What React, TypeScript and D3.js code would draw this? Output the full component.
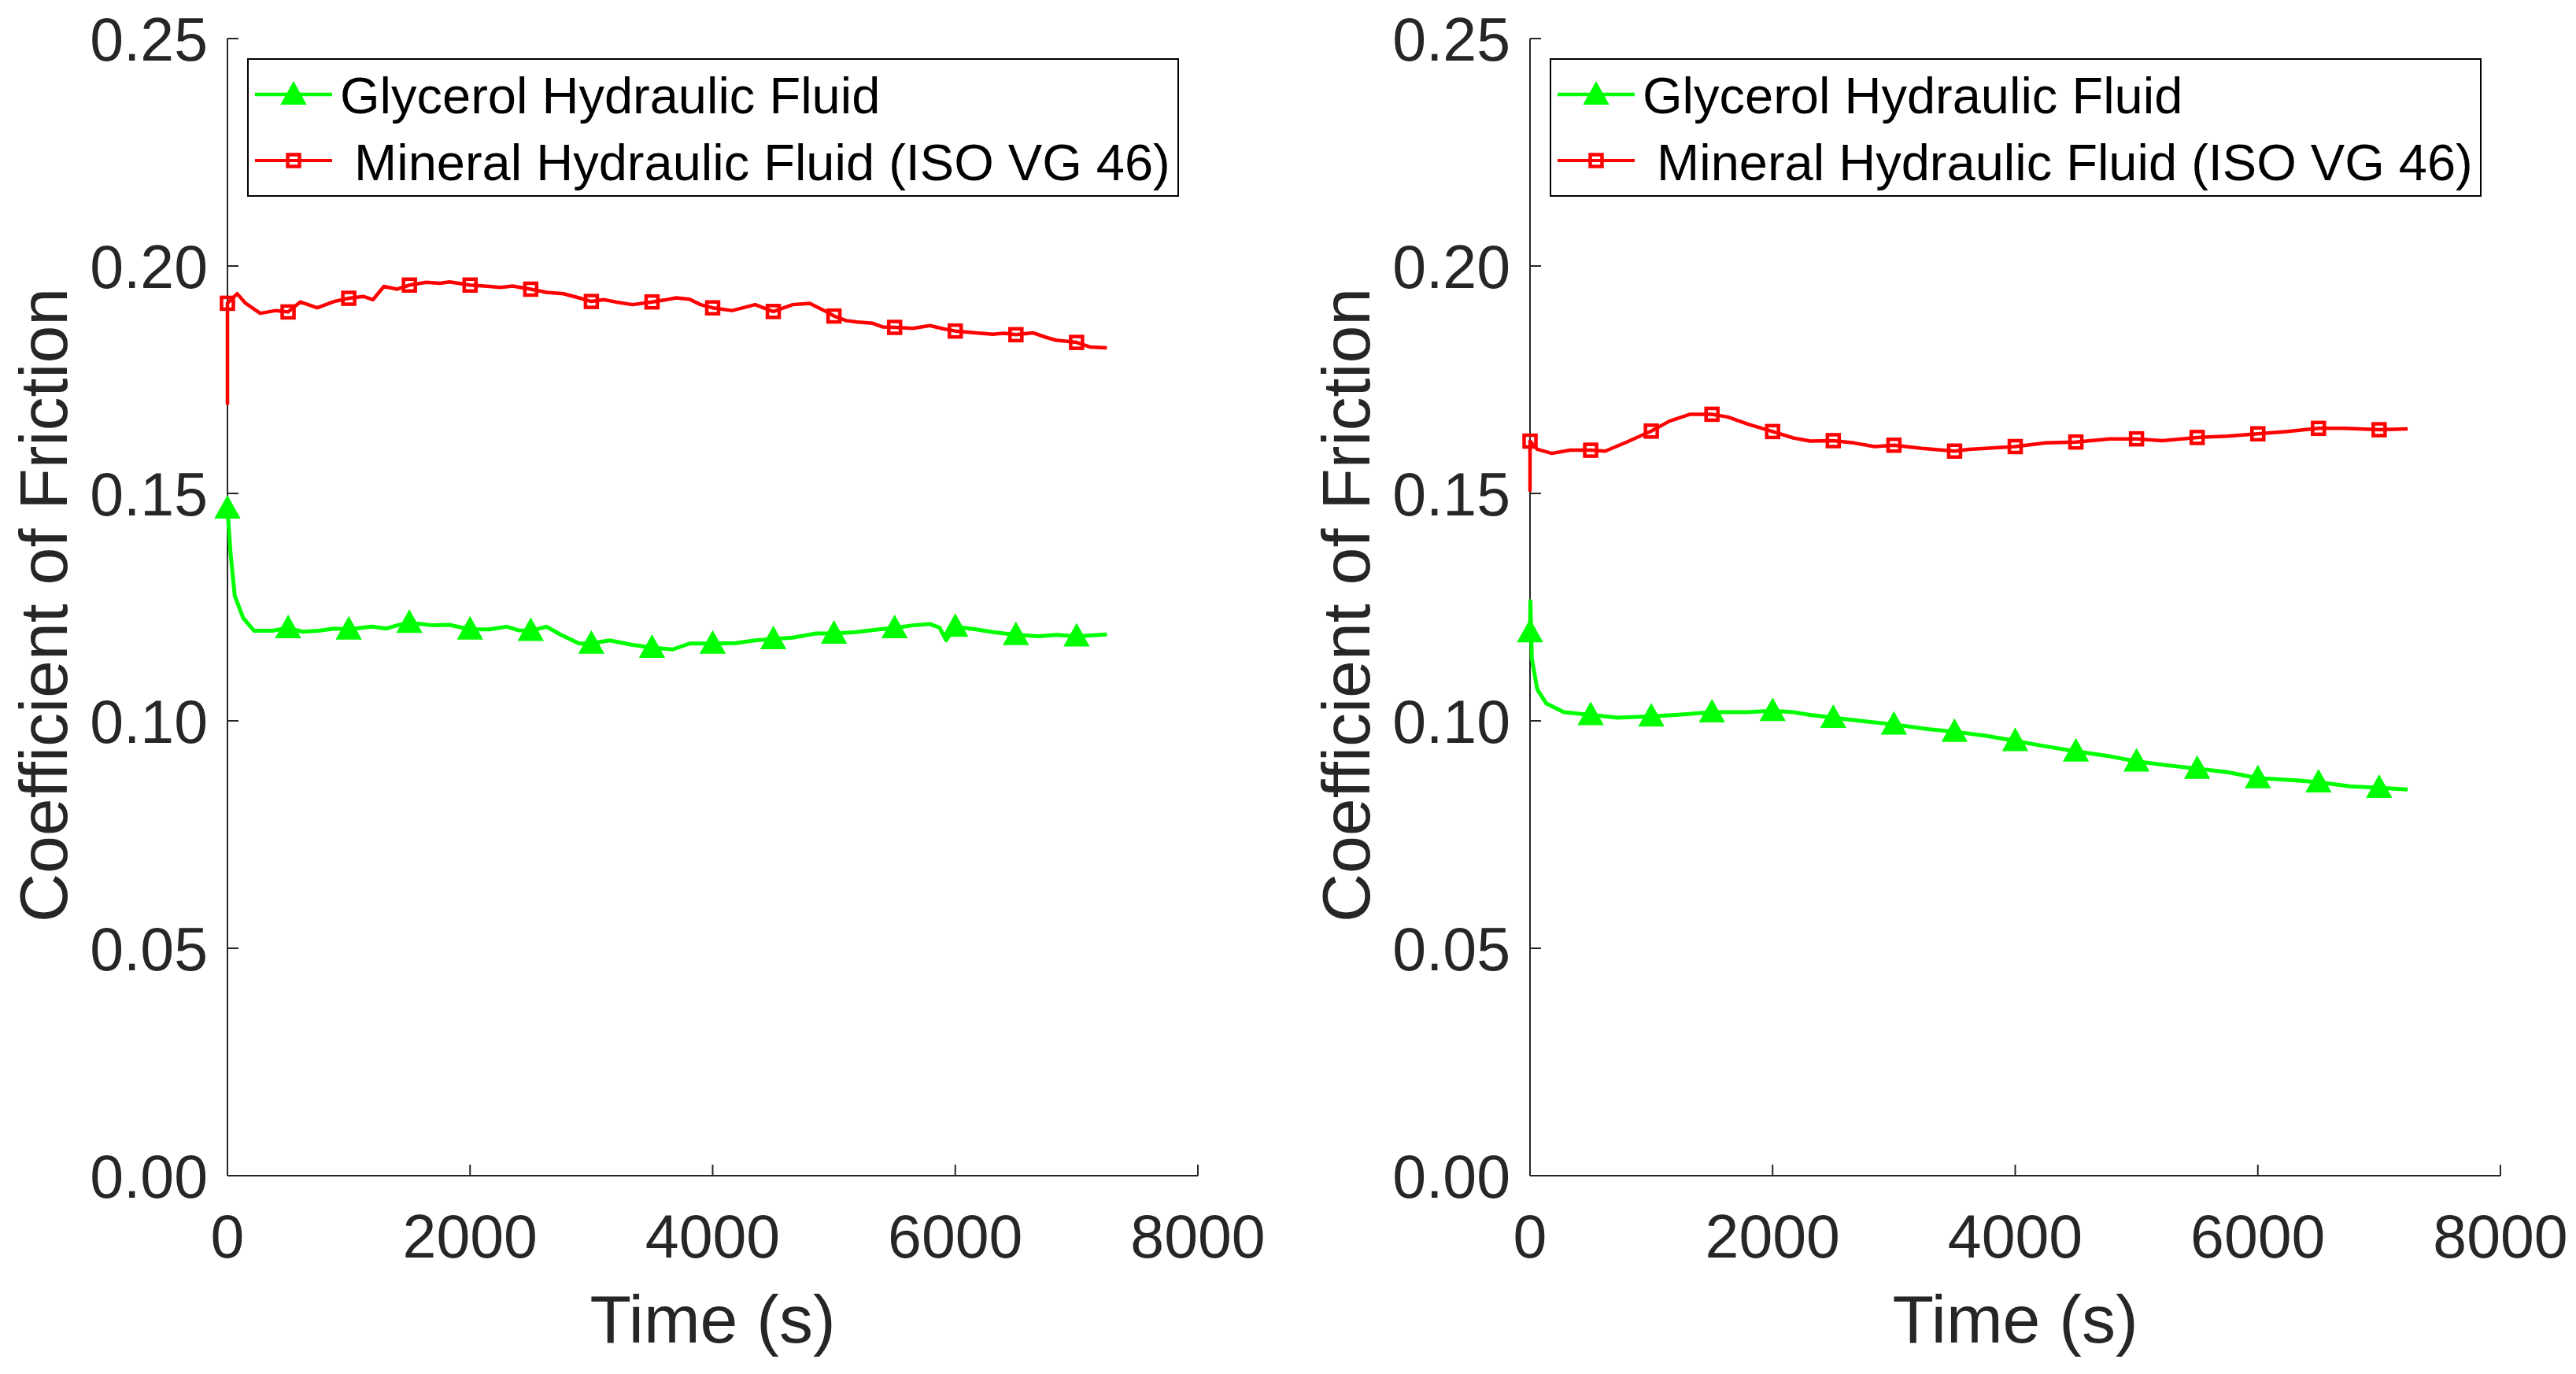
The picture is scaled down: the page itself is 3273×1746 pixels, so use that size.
import React from "react";
import * as d3 from "d3";

// ---- Data ----
const xTicks = [0, 2000, 4000, 6000, 8000];
const yTicks = [0, 0.05, 0.1, 0.15, 0.2, 0.25];
const markerTimes = [0, 500, 1000, 1500, 2000, 2500, 3000, 3500, 4000, 4500, 5000, 5500, 6000, 6500, 7000];
const seriesNames = ["Glycerol Hydraulic Fluid", " Mineral Hydraulic Fluid (ISO VG 46)"];

// Left panel – glycerol
const leftGlyT = [0, 25, 60, 130, 220, 370, 500, 620, 750, 880, 1000, 1190, 1310, 1400, 1500, 1690, 1830, 2000, 2160, 2300, 2400, 2500, 2630, 2750, 2900, 3000, 3150, 3340, 3500, 3670, 3810, 4000, 4190, 4350, 4500, 4660, 4850, 5000, 5180, 5370, 5500, 5650, 5790, 5870, 5925, 6000, 6170, 6310, 6500, 6690, 6830, 7000, 7250];
const leftGlyV = [0.1467, 0.137, 0.1275, 0.1226, 0.1198, 0.1198, 0.1204, 0.1196, 0.1198, 0.1203, 0.1201, 0.1207, 0.1203, 0.121, 0.1216, 0.121, 0.1211, 0.1201, 0.1201, 0.1207, 0.1199, 0.1198, 0.1207, 0.1189, 0.117, 0.117, 0.1177, 0.1167, 0.1161, 0.1157, 0.117, 0.117, 0.1171, 0.1177, 0.118, 0.1183, 0.1192, 0.1192, 0.1195, 0.1201, 0.1204, 0.121, 0.1213, 0.1205, 0.1177, 0.1207, 0.1201, 0.1195, 0.1189, 0.1186, 0.1189, 0.1186, 0.119];

// Left panel – mineral
const leftMinT = [0, 0, 80, 150, 270, 400, 500, 600, 740, 880, 1000, 1120, 1200, 1290, 1400, 1500, 1640, 1750, 1830, 2000, 2160, 2250, 2350, 2500, 2630, 2770, 2910, 3000, 3100, 3200, 3340, 3500, 3600, 3700, 3810, 3900, 4000, 4160, 4250, 4350, 4500, 4660, 4800, 4920, 5000, 5100, 5180, 5320, 5400, 5500, 5650, 5790, 5900, 6000, 6170, 6310, 6400, 6500, 6640, 6750, 6830, 7000, 7110, 7250];
const leftMinV = [0.1695, 0.1918, 0.1939, 0.1918, 0.1896, 0.1902, 0.1899, 0.1921, 0.1908, 0.1922, 0.1929, 0.1933, 0.1926, 0.1955, 0.1949, 0.1958, 0.1964, 0.1962, 0.1965, 0.1958, 0.1955, 0.1953, 0.1956, 0.1949, 0.1942, 0.1939, 0.1929, 0.1922, 0.1926, 0.1921, 0.1915, 0.1921, 0.1925, 0.193, 0.1927, 0.1915, 0.1908, 0.1902, 0.1908, 0.1915, 0.19, 0.1915, 0.1918, 0.1902, 0.189, 0.188, 0.1877, 0.1874, 0.1866, 0.1865, 0.1863, 0.1869, 0.1862, 0.1857, 0.1853, 0.185, 0.1852, 0.1849, 0.1853, 0.1843, 0.1837, 0.1832, 0.1822, 0.182];

// Right panel – glycerol
const rightGlyT = [0, 3, 15, 60, 135, 280, 500, 720, 1000, 1200, 1500, 1780, 2000, 2170, 2310, 2500, 2750, 3000, 3280, 3500, 3760, 4000, 4250, 4500, 4780, 5000, 5260, 5500, 5750, 6000, 6280, 6500, 6760, 7000, 7235];
const rightGlyV = [0.1195, 0.1263, 0.1137, 0.1069, 0.1038, 0.1019, 0.1013, 0.1007, 0.101, 0.1013, 0.1019, 0.1019, 0.1022, 0.1019, 0.1013, 0.1007, 0.0999, 0.0992, 0.0982, 0.0976, 0.0967, 0.0956, 0.0944, 0.0933, 0.0922, 0.0911, 0.0902, 0.0895, 0.0887, 0.0874, 0.087, 0.0865, 0.0856, 0.0853, 0.0849];

// Right panel – mineral
const rightMinT = [0, 0, 60, 180, 330, 500, 620, 790, 1000, 1150, 1320, 1500, 1630, 1800, 2000, 2170, 2310, 2500, 2670, 2840, 3000, 3230, 3500, 3620, 3810, 4000, 4250, 4500, 4780, 5000, 5210, 5500, 5750, 6000, 6230, 6500, 6710, 7000, 7235];
const rightMinV = [0.1504, 0.1615, 0.1597, 0.1588, 0.1595, 0.1595, 0.1593, 0.1612, 0.1637, 0.1659, 0.1674, 0.1674, 0.1668, 0.1652, 0.1636, 0.1622, 0.1615, 0.1616, 0.1611, 0.1603, 0.1606, 0.1599, 0.1593, 0.1597, 0.16, 0.1603, 0.1611, 0.1613, 0.162, 0.162, 0.1616, 0.1623, 0.1626, 0.1631, 0.1636, 0.1643, 0.1643, 0.164, 0.1642];

// ---- Styles ----
const W = 3273;
const H = 1746;
const GREEN = "#00FF00";
const RED = "#FF0000";
const AXIS = "#262626";
const FONT = "'Liberation Sans', Arial, Helvetica, sans-serif";

type Pt = { t: number; v: number };
const zip = (t: number[], v: number[]): Pt[] => t.map((tt, i) => ({ t: tt, v: v[i] }));
const markerPts = (pts: Pt[]): Pt[] =>
  markerTimes.map((m) => {
    let idx = 0;
    pts.forEach((p, i) => {
      if (p.t <= m) idx = i;
    });
    return pts[idx];
  });

const Triangle = ({ x, y }: { x: number; y: number }) => (
  <path
    d={`M${x},${y - 15} L${x + 15},${y + 12} L${x - 15},${y + 12} Z`}
    fill={GREEN}
    stroke={GREEN}
    strokeWidth={2}
  />
);
const Square = ({ x, y }: { x: number; y: number }) => (
  <rect x={x - 7.5} y={y - 7.5} width={15} height={15} fill="none" stroke={RED} strokeWidth={4.5} />
);

function Panel({ ox, gly, min }: { ox: number; gly: Pt[]; min: Pt[] }) {
  const x = d3.scaleLinear().domain([0, 8000]).range([ox, ox + 1233]);
  const y = d3.scaleLinear().domain([0, 0.25]).range([1494, 49]);
  const line = d3
    .line<Pt>()
    .x((d) => x(d.t))
    .y((d) => y(d.v));
  const lx = ox + 26;
  const ly = 75;
  const lw = 1182;
  const lh = 174;
  return (
    <g>
      {/* axes */}
      <line x1={x(0)} x2={x(8000)} y1={y(0)} y2={y(0)} stroke={AXIS} strokeWidth={2} />
      <line x1={x(0)} x2={x(0)} y1={y(0)} y2={y(0.25)} stroke={AXIS} strokeWidth={2} />
      {xTicks.map((t) => (
        <g key={"xt" + t}>
          <line x1={x(t)} x2={x(t)} y1={y(0)} y2={y(0) - 14} stroke={AXIS} strokeWidth={2} />
          <text x={x(t)} y={1598} textAnchor="middle" fontSize={77} fill={AXIS} fontFamily={FONT}>
            {t}
          </text>
        </g>
      ))}
      {yTicks.map((v) => (
        <g key={"yt" + v}>
          <line x1={x(0)} x2={x(0) + 14} y1={y(v)} y2={y(v)} stroke={AXIS} strokeWidth={2} />
          <text x={x(0) - 25} y={y(v) + 28} textAnchor="end" fontSize={77} fill={AXIS} fontFamily={FONT}>
            {v.toFixed(2)}
          </text>
        </g>
      ))}
      <text x={(x(0) + x(8000)) / 2} y={1706} textAnchor="middle" fontSize={86} fill={AXIS} fontFamily={FONT}>
        Time (s)
      </text>
      <text
        transform={`translate(${ox - 204},769) rotate(-90)`}
        textAnchor="middle"
        fontSize={86}
        fill={AXIS}
        fontFamily={FONT}
      >
        Coefficient of Friction
      </text>

      {/* series */}
      <path d={line(min) || ""} fill="none" stroke={RED} strokeWidth={4.5} strokeLinejoin="round" />
      <path d={line(gly) || ""} fill="none" stroke={GREEN} strokeWidth={5} strokeLinejoin="round" />
      {markerPts(min).map((p, i) => (
        <Square key={"s" + i} x={x(p.t)} y={y(p.v)} />
      ))}
      {markerPts(gly).map((p, i) => (
        <Triangle key={"tr" + i} x={x(p.t)} y={y(p.v)} />
      ))}

      {/* legend */}
      <rect x={lx} y={ly} width={lw} height={lh} fill="white" stroke="#000" strokeWidth={2} />
      <line x1={lx + 9} x2={lx + 107} y1={ly + 45} y2={ly + 45} stroke={GREEN} strokeWidth={4.5} />
      <Triangle x={lx + 58} y={ly + 45} />
      <text x={lx + 117} y={ly + 69} fontSize={65} fill="#000" fontFamily={FONT}>
        {seriesNames[0]}
      </text>
      <line x1={lx + 9} x2={lx + 107} y1={ly + 129} y2={ly + 129} stroke={RED} strokeWidth={4} />
      <Square x={lx + 58} y={ly + 129} />
      <text x={lx + 117} y={ly + 154} fontSize={65} fill="#000" fontFamily={FONT} style={{ whiteSpace: "pre" }}>
        {seriesNames[1]}
      </text>
    </g>
  );
}

export default function App() {
  return (
    <svg
      width={W}
      height={H}
      viewBox={`0 0 ${W} ${H}`}
      style={{ position: "absolute", left: 0, top: 0, background: "white" }}
    >
      <rect x={0} y={0} width={W} height={H} fill="white" />
      <Panel ox={289} gly={zip(leftGlyT, leftGlyV)} min={zip(leftMinT, leftMinV)} />
      <Panel ox={1944} gly={zip(rightGlyT, rightGlyV)} min={zip(rightMinT, rightMinV)} />
    </svg>
  );
}
